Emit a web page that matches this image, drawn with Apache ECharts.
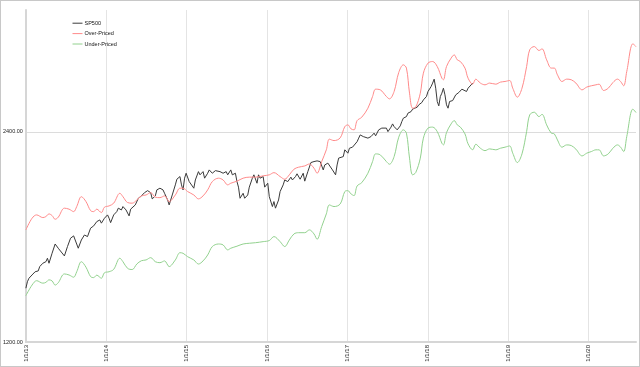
<!DOCTYPE html>
<html>
<head>
<meta charset="utf-8">
<script src="https://cdn.jsdelivr.net/npm/echarts@6/dist/echarts.min.js"></script>
<style>
    html, body { margin: 0; padding: 0; background: #fff; }
    #chart { width: 640px; height: 367px; }
    #frame { position: absolute; left: 0; top: 0; width: 640px; height: 367px; box-sizing: border-box; border: 1px solid #c8c8c8; pointer-events: none; }
</style>
</head>
<body>
<div id="chart"></div>
<div id="frame"></div>
<script>
// series names and y tick labels
const seriesNames = ['SP500', 'Over-Priced', 'Under-Priced'];
const yTickLabels = ['1200.00', '2400.00'];

// SP500: weeks counted from 1/1/13, and index level
const spWeeks = [0,1,2,4,6,8,9,11,12,13, 14,15,17,19,21,22,25,27,29,31, 32,34,36,38,40,42,44,46,48,49,
    51,53,54,55,57,59,60,62,63,65, 67,68,69,71,73,75,77,79,81,82, 84,85,87,89,90,92,93,95,97,98,
    100,101,102,103,104,106,107,109,110,112, 113,115,116,118,119,121,123,124,126,128,
    130,131,133,134,136,137,138,139,141,142, 144,145,147,148,150,151,152,154,155,157,
    158,160,161,162,164,165,167,168,170,172, 173,175,176,178,180,181,183,185,187,189,
    191,193,194,196,197,199,201,202,203,204, 206,207,209,210,212,213,215,216,217,219,
    220,222,223,224,226,227,229,231,232,234, 235,237,238,239,241,243,244,245,247,248,
    250,251,252,254,255,257,258,260,261,263, 264,265,266,267,268,269,270,271,272,273,
    274,275,276,277,279,280,281,283,284,286, 287,289,290];
const spValues = [1433,1464,1481,1497,1513,1517,1539,1556,1551,1564, 1582,1556,1608,1658,1635,1644,1594,1644,1690,1703,
    1680,1635,1680,1708,1699,1747,1760,1785,1795,1776, 1805,1825,1805,1779,1825,1845,1866,1855,1876,1855,
    1819,1860,1866,1886,1928,1943,1964,1977,1964,1924, 1943,1982,1993,1982,1960,1917,1886,1949,2015,2053,
    2071,2015,1982,2060,2094,2037,2048,1993,2048,2105, 2083,2105,2060,2094,2117,2094,2112,2117,2105,2094,
    2105,2083,2117,2083,2094,2037,2000,1928,1960,1928, 1949,2000,2060,2083,2026,2083,2060,2071,2000,2026,
    1938,1876,1907,1866,1917,1971,2015,2048,2037,2067, 2048,2071,2090,2053,2094,2040,2105,2169,2176,2181,
    2176,2117,2152,2165,2152,2117,2083,2152,2201,2201, 2212,2262,2237,2274,2282,2286,2324,2351,2376,2363,
    2358,2351,2337,2363,2390,2369,2416,2430,2421,2430, 2402,2438,2464,2442,2416,2448,2483,2511,2524,2553,
    2566,2587,2581,2604,2624,2644,2667,2697,2742,2787, 2819,2856,2772,2653,2615,2697,2727,2772,2712,2624,
    2595,2653,2667,2661,2712,2712,2733,2763,2772,2742, 2772,2803,2819];

// price bands: weeks counted from 1/1/13
const bandWeeks = [0,4,7,11,13,15,17,19,21,25, 28,31,33,36,39,42,44,46,49,51, 54,57,61,63,66,69,72,75,78,81,
    84,87,90,93,97,100,102,105,109,112, 115,118,121,125,128,131,133,137,141,145,
    149,154,158,161,165,168,171,174,177,181, 184,187,189,192,195,197,200,204,207,209,
    211,213,215,218,222,225,227,230,234,236, 239,242,245,247,249,251,253,256,258,261,
    264,267,270,271,273,276,278,280,282,285, 287,290,292,295,298,301,305,308,311,314,
    316,319,322,325,327,330,333,335,338,341, 343,345,348,351,354,357,361,364,367,370,
    372,375,378,381,384,386,388,390,394,396];
const overValues = [1737,1805,1825,1809,1815,1831,1821,1799,1811,1866, 1860,1845,1876,1938,1907,1851,1845,1860,1839,1872,
    1880,1897,1960,1938,1901,1897,1917,1943,1949,1964, 1935,1932,1943,1907,1949,1993,1993,1971,1949,1924,
    1943,1982,2037,2060,2048,2015,2026,2040,2060,2067, 2067,2076,2083,2098,2071,2053,2083,2122,2136,2145,
    2159,2129,2094,2176,2262,2343,2332,2353,2442,2456, 2424,2416,2491,2519,2595,2697,2763,2757,2697,2676,
    2742,2919,2994,2962,2727,2595,2604,2727,2913,3011, 3027,2977,2865,2850,2977,3061,3094,3044,3027,2962,
    2865,2809,2856,2819,2803,2819,2809,2828,2834,2843, 2772,2691,2772,2977,3146,3180,3139,3156,3044,2962,
    2962,2897,2834,2856,2850,2819,2757,2782,2794,2803, 2809,2751,2772,2824,2856,2834,2794,2929,3209,3180];
const underValues = [1398,1448,1469,1457,1461,1473,1468,1448,1459,1502, 1497,1486,1513,1564,1536,1489,1484,1496,1481,1508,
    1513,1525,1582,1564,1530,1524,1552,1569,1573,1585, 1564,1559,1568,1539,1573,1611,1608,1590,1573,1552,
    1568,1599,1644,1658,1653,1626,1635,1646,1658,1662, 1665,1671,1677,1699,1671,1644,1680,1714,1721,1721,
    1737,1714,1684,1756,1831,1886,1876,1892,1971,1977, 1956,1945,2008,2030,2094,2176,2232,2225,2176,2157,
    2212,2358,2416,2390,2201,2083,2098,2201,2351,2430, 2438,2402,2312,2299,2394,2464,2491,2456,2438,2384,
    2307,2262,2304,2274,2256,2269,2262,2274,2282,2291, 2237,2169,2232,2402,2538,2561,2524,2543,2456,2390,
    2384,2337,2282,2299,2294,2267,2217,2237,2249,2262, 2262,2217,2232,2274,2299,2282,2249,2363,2587,2558];

const start = new Date(2013, 0, 1).getTime();
const WEEK = 7 * 24 * 3600 * 1000;
const BASE = 1200;

// the value axis runs in log2 units above 1200 (log-scaled chart)
const toDate = w => start + w * WEEK;
const toLog = v => Math.log2(v / BASE);
const pairs = (weeks, values) => weeks.map((w, i) => [toDate(w), toLog(values[i])]);

const font = 'Liberation Sans, Arial, sans-serif';
const myChart = echarts.init(document.getElementById('chart'));

const option = {
    animation: false,
    backgroundColor: '#fff',
    textStyle: { fontFamily: font },
    grid: { left: 24, right: 4, top: 10, bottom: 25, containLabel: false },
    legend: {
        orient: 'vertical',
        left: 72,
        top: 20,
        padding: 0,
        itemGap: 4,
        itemWidth: 10,
        itemHeight: 8,
        itemStyle: { opacity: 0 },
        lineStyle: { width: 1 },
        textStyle: { fontSize: 5.5, color: '#111', fontFamily: font, padding: [0, 0, 0, -3] },
        data: seriesNames
    },
    xAxis: {
        type: 'time',
        min: toDate(0),
        max: toDate(bandWeeks[bandWeeks.length - 1]),
        splitNumber: 8,
        minInterval: 365 * 24 * 3600 * 1000,
        axisLine: { show: true, lineStyle: { color: '#d6d6d6', width: 2 } },
        axisTick: { show: false },
        splitLine: { show: true, showMaxLine: false, lineStyle: { color: '#e4e4e4', width: 1 } },
        axisLabel: {
            rotate: 90,
            margin: 3,
            fontSize: 6,
            color: '#222',
            fontFamily: font,
            showMaxLabel: false,
            formatter: function (value) {
                const d = new Date(value);
                if (d.getMonth() !== 0 || d.getDate() !== 1) return '';
                return '1/1/' + String(d.getFullYear()).slice(2);
            }
        }
    },
    yAxis: {
        type: 'value',
        min: 0,
        max: 1.58,
        interval: 1,
        axisLine: { show: true, lineStyle: { color: '#d6d6d6', width: 2 } },
        axisTick: { show: false },
        splitLine: { show: true, showMaxLine: false, lineStyle: { color: '#dcdcdc', width: 1 } },
        axisLabel: {
            margin: 3,
            fontSize: 5.5,
            color: '#222',
            fontFamily: font,
            showMaxLabel: false,
            formatter: function (value) {
                if (Math.abs(value) < 1e-6) return yTickLabels[0];
                if (Math.abs(value - 1) < 1e-6) return yTickLabels[1];
                return '';
            }
        }
    },
    series: [
        {
            name: seriesNames[0],
            type: 'line',
            data: pairs(spWeeks, spValues),
            symbol: 'none',
            z: 3,
            lineStyle: { color: '#3a3a3a', width: 1 },
            itemStyle: { color: '#3a3a3a' }
        },
        {
            name: seriesNames[1],
            type: 'line',
            data: pairs(bandWeeks, overValues),
            symbol: 'none',
            smooth: 0.35,
            lineStyle: { color: '#ff8a8a', width: 1 },
            itemStyle: { color: '#ff8a8a' }
        },
        {
            name: seriesNames[2],
            type: 'line',
            data: pairs(bandWeeks, underValues),
            symbol: 'none',
            smooth: 0.35,
            lineStyle: { color: '#92d18e', width: 1 },
            itemStyle: { color: '#92d18e' }
        }
    ]
};
myChart.setOption(option);
</script>
</body>
</html>
